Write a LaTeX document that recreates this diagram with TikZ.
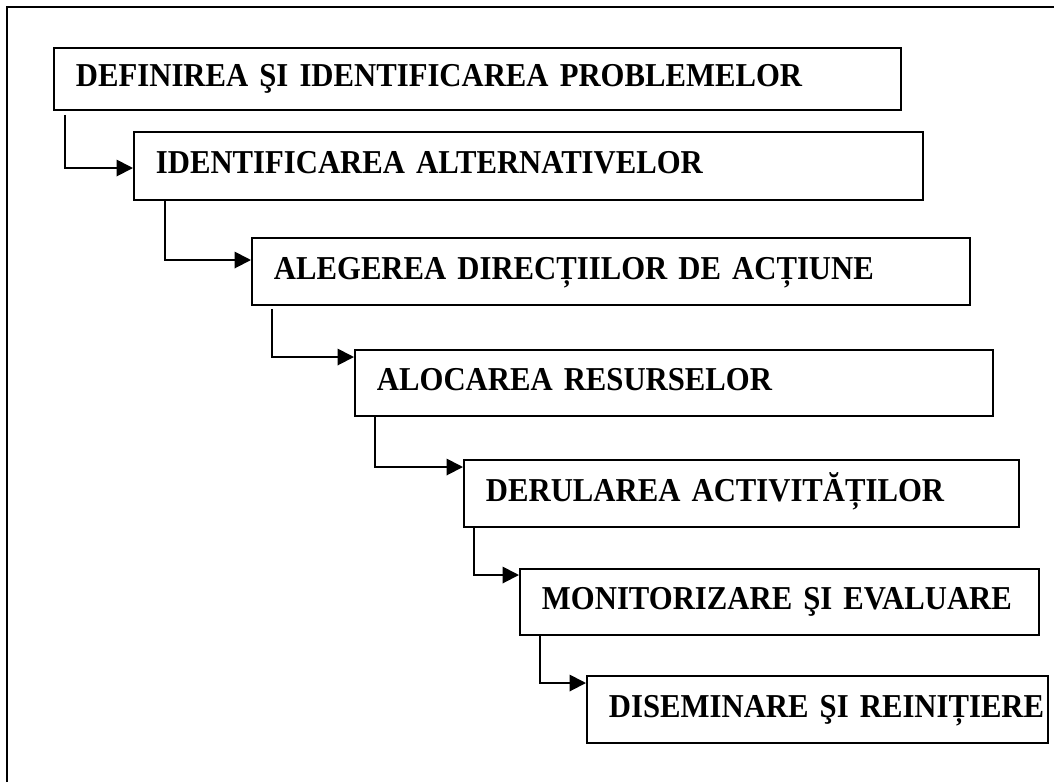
\documentclass[tikz,border=0pt]{standalone}
\usepackage{fontspec}
\setmainfont{Liberation Serif}[FakeStretch=0.92]
\usetikzlibrary{arrows.meta, positioning, calc}
\hyphenpenalty=10000

\begin{document}
\begin{tikzpicture}[x=0.02cm, y=-0.02cm,
    stage/.style={draw, line width=1.1pt, anchor=north west, align=left,
      text height=0.32cm, text depth=0pt, inner xsep=0.44cm, inner ysep=0pt,
      font={\fontsize{19}{22}\selectfont\bfseries\spaceskip=0.18em\relax}},
    flow/.style={line width=1.1pt, -{Triangle[length=0.33cm, width=0.33cm]}}]
    \useasboundingbox (0,0) rectangle (1054,782);

    % Frame
    \draw[line width=1.7pt] (7,782) -- (7,7) -- (1054,7);

    % Stages
    \node[stage, text width=16.06cm, minimum height=1.24cm] (def) at (53,47) {\mbox{DEFINIREA ŞI IDENTIFICAREA PROBLEMELOR}};
    \node[stage, text width=14.9cm, minimum height=1.36cm] (alt) at (133,131) {\mbox{IDENTIFICAREA ALTERNATIVELOR}};
    \node[stage, text width=13.48cm, minimum height=1.34cm] (dir) at (251,237) {\mbox{ALEGEREA DIRECȚIILOR DE ACȚIUNE}};
    \node[stage, text width=11.88cm, minimum height=1.32cm] (res) at (354,349) {\mbox{ALOCAREA RESURSELOR}};
    \node[stage, text width=10.22cm, minimum height=1.34cm] (act) at (463,459) {\mbox{DERULAREA ACTIVITĂȚILOR}};
    \node[stage, text width=9.5cm, minimum height=1.32cm] (mon) at (519,568) {\mbox{MONITORIZARE ŞI EVALUARE}};
    \node[stage, text width=8.34cm, minimum height=1.34cm] (dis) at (586,675) {\mbox{DISEMINARE ŞI REINIȚIERE}};

    % Connectors
    \draw[flow] ($(def.south west)+(12,4)$) |- ($(alt.north west)+(0,37)$);
    \draw[flow] ($(alt.south west)+(32,0)$) |- ($(dir.north west)+(0,23)$);
    \draw[flow] ($(dir.south west)+(21,3)$) |- ($(res.north west)+(0,8)$);
    \draw[flow] ($(res.south west)+(21,0)$) |- ($(act.north west)+(0,8)$);
    \draw[flow] ($(act.south west)+(11,0)$) |- ($(mon.north west)+(0,7)$);
    \draw[flow] ($(mon.south west)+(21,0)$) |- ($(dis.north west)+(0,8)$);
\end{tikzpicture}
\end{document}
